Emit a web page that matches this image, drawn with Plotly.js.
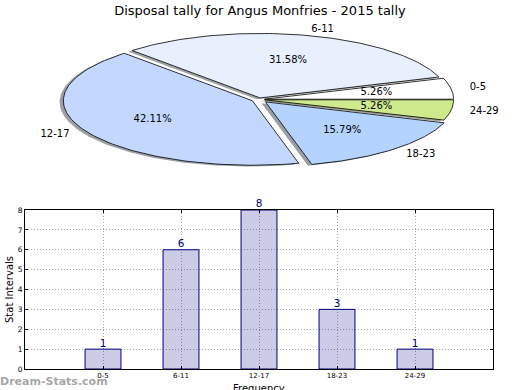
<!DOCTYPE html>
<html>
<head>
<meta charset="utf-8">
<script src="https://cdn.plot.ly/plotly-3.0.1.min.js"></script>
<style>html,body{margin:0;padding:0;background:#fff}#chart{width:520px;height:390px}</style>
</head>
<body>
<div id="chart"></div>
<script>
// ---- data ----
const titleText = 'Disposal tally for Angus Monfries - 2015 tally';
const categories = ['0-5', '6-11', '12-17', '18-23', '24-29'];
const tally = [1, 6, 8, 3, 1];
const yTickVals = [0, 1, 2, 3, 4, 5, 6, 7, 8];
const xAxisTitle = 'Frequency';
const yAxisTitle = 'Stat Intervals';
const watermark = 'Dream-Stats.com';

// ---- styles ----
const sliceColors = [[255,255,255],[232,240,254],[196,216,255],[180,212,255],[206,234,140]];
const explode = [0.03, 0.025, 0.04, 0.05, 0.03];
const FONT = 'DejaVu Sans';
const PX_X = 189, PX_Y = 64.5, CX = 259, CY = 99.5;

const total = tally.reduce((a,b)=>a+b,0);
const traces = [];
const rad = Math.PI/180;
let cum = 0;
const pctX=[], pctY=[], pctT=[];
const labR={x:[],y:[],t:[]}, labL={x:[],y:[],t:[]};
tally.forEach((v,i)=>{
  const t1 = 360*cum/total; cum += v; const t2 = 360*cum/total;
  const mid = (t1+t2)/2;
  const cx = explode[i]*Math.cos(mid*rad), cy = explode[i]*Math.sin(mid*rad);
  const xs=[cx], ys=[cy];
  const n = 120;
  for(let k=0;k<=n;k++){const t=(t1+(t2-t1)*k/n)*rad; xs.push(cx+Math.cos(t)); ys.push(cy+Math.sin(t));}
  xs.push(cx); ys.push(cy);
  const c = sliceColors[i];
  traces.push({type:'scatter',mode:'lines',xaxis:'x2',yaxis:'y2',x:xs.map(q=>q-0.02),y:ys.map(q=>q-0.02),
    fill:'toself',fillcolor:`rgba(${Math.round(c[0]*0.3)},${Math.round(c[1]*0.3)},${Math.round(c[2]*0.3)},0.5)`,
    line:{width:0},hoverinfo:'skip',showlegend:false});
  traces.push({type:'scatter',mode:'lines',xaxis:'x2',yaxis:'y2',x:xs,y:ys,fill:'toself',
    fillcolor:`rgb(${c[0]},${c[1]},${c[2]})`,line:{color:'#000',width:0.8},hoverinfo:'skip',showlegend:false});
  pctX.push(cx+0.6*Math.cos(mid*rad)); pctY.push(cy+0.6*Math.sin(mid*rad));
  pctT.push((100*v/total).toFixed(2)+'%');
  const lx = cx+1.1*Math.cos(mid*rad), ly = cy+1.1*Math.sin(mid*rad);
  const tgt = lx>0?labR:labL; tgt.x.push(lx); tgt.y.push(ly); tgt.t.push(categories[i]);
});
traces.push({type:'scatter',mode:'text',xaxis:'x2',yaxis:'y2',x:pctX,y:pctY,text:pctT,textposition:'middle center',
  textfont:{family:FONT,size:10,color:'#000'},hoverinfo:'skip',showlegend:false,cliponaxis:false});
traces.push({type:'scatter',mode:'text',xaxis:'x2',yaxis:'y2',x:labR.x,y:labR.y,text:labR.t,textposition:'middle right',
  textfont:{family:FONT,size:10,color:'#000'},hoverinfo:'skip',showlegend:false,cliponaxis:false});
traces.push({type:'scatter',mode:'text',xaxis:'x2',yaxis:'y2',x:labL.x,y:labL.y,text:labL.t,textposition:'middle left',
  textfont:{family:FONT,size:10,color:'#000'},hoverinfo:'skip',showlegend:false,cliponaxis:false});

// bar chart
traces.push({type:'bar',x:categories,y:tally,width:0.46,xaxis:'x',yaxis:'y',
  marker:{color:'rgba(0,0,128,0.2)',line:{color:'#000080',width:1}},
  hoverinfo:'skip',showlegend:false});
traces.push({type:'scatter',mode:'text',x:categories,y:tally,xaxis:'x',yaxis:'y',text:tally.map(String),
  textposition:'top center',cliponaxis:false,textfont:{family:FONT,size:10.5,color:'#000080'},hoverinfo:'skip',showlegend:false});

const W=520,H=390;
const gridDash='1px,2px';
const layout = {
  width:W,height:H,margin:{l:0,r:0,t:0,b:0},paper_bgcolor:'#fff',plot_bgcolor:'rgba(0,0,0,0)',
  font:{family:FONT,color:'#000'},showlegend:false,
  title:{text:titleText,font:{family:FONT,size:13,color:'#000'},x:0.5,xanchor:'center',y:(H-10)/H,yanchor:'middle',yref:'container'},
  xaxis:{domain:[25/W,493/W],anchor:'y',type:'category',range:[-1,5],showgrid:true,gridcolor:'#a8a8a8',griddash:gridDash,gridwidth:1,
    showline:true,linecolor:'#000',linewidth:1,mirror:'ticks',ticks:'inside',ticklen:3,tickcolor:'#000',
    tickfont:{family:FONT,size:7,color:'#000'},zeroline:false,fixedrange:true},
  yaxis:{domain:[(H-369)/H,(H-210)/H],anchor:'x',range:[0,8],tickvals:yTickVals,showgrid:true,gridcolor:'#a8a8a8',griddash:gridDash,gridwidth:1,
    showline:true,linecolor:'#000',linewidth:1,mirror:'ticks',ticks:'inside',ticklen:3,tickcolor:'#000',
    tickfont:{family:FONT,size:7.5,color:'#000'},zeroline:false,fixedrange:true},
  xaxis2:{domain:[0,1],anchor:'y2',range:[-CX/PX_X,(W-CX)/PX_X],visible:false,fixedrange:true},
  yaxis2:{domain:[(H-175)/H,1],anchor:'x2',range:[(CY-175)/PX_Y,CY/PX_Y],visible:false,fixedrange:true},
  annotations:[
    {text:yAxisTitle,xref:'paper',yref:'paper',x:9/W,y:(H-290)/H,xanchor:'center',yanchor:'middle',textangle:-90,showarrow:false,font:{family:FONT,size:10,color:'#000'}},
    {text:xAxisTitle,xref:'paper',yref:'paper',x:259/W,y:(H-388)/H,xanchor:'center',yanchor:'middle',showarrow:false,font:{family:FONT,size:10,color:'#000'}},
    {text:'<b>'+watermark+'</b>',xref:'paper',yref:'paper',x:-0.003,y:(H-381)/H,xanchor:'left',yanchor:'middle',showarrow:false,font:{family:FONT,size:11,color:'rgba(150,150,150,0.85)'}}
  ]
};
Plotly.newPlot('chart',traces,layout,{displayModeBar:false,staticPlot:true});
</script>
</body>
</html>
